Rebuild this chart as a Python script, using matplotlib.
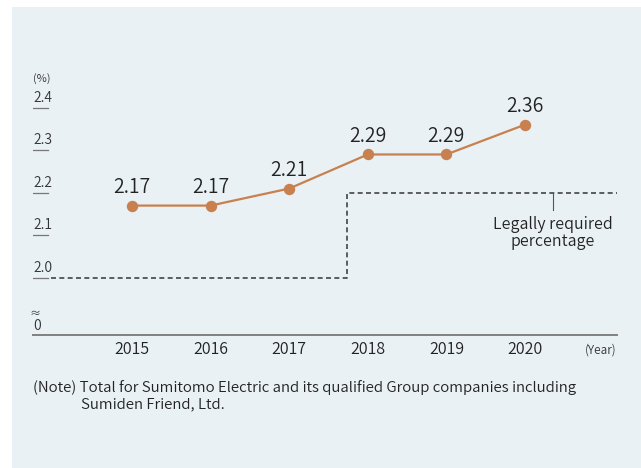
import matplotlib.pyplot as plt
import matplotlib.transforms as mtransforms
from matplotlib.patches import Rectangle

plt.rcParams['font.family'] = ['Noto Sans CJK JP', 'DejaVu Sans']
plt.rcParams['font.weight'] = 350

# data
years = [2015, 2016, 2017, 2018, 2019, 2020]
rates = [2.17, 2.17, 2.21, 2.29, 2.29, 2.36]
legal_x = [2013.97, 2017.73, 2017.73, 2021.17]
legal_y = [2.0, 2.0, 2.2, 2.2]
ytick_vals = [2.0, 2.1, 2.2, 2.3, 2.4]
ytick_labels = ['2.0', '2.1', '2.2', '2.3', '2.4']

W, H = 641, 468
fig = plt.figure(figsize=(W / 100, H / 100), dpi=100)
fig.patch.set_facecolor('white')
fig.patches.append(Rectangle((12 / W, 0), 1 - 12 / W, 1 - 7 / H, transform=fig.transFigure,
                             facecolor='#e9f1f4', edgecolor='none', zorder=-5))

# axes placed in pixel terms
left, right, top, bottom = 33, 617, 80, 335
ax = fig.add_axes([left / W, 1 - bottom / H, (right - left) / W, (bottom - top) / H])
ax.set_zorder(2)
ax.set_facecolor('none')
px = 0.1 / 42.6  # value per pixel
y0 = 2.0 - 57 * px  # position drawn for "0"
ax.set_ylim(y0, 2.0 + 198 * px)
ax.set_xlim(2015 - 99 / 78.6, 2015 + 485 / 78.6)
for s in ax.spines.values():
    s.set_visible(False)
ax.set_xticks([])
ax.set_yticks([])

col = '#c8804f'
ax.plot(years, rates, color=col, lw=1.6, marker='o', ms=7.2, zorder=3, clip_on=False)
for x, v in zip(years, rates):
    ax.annotate(f'{v:.2f}', (x, v), xytext=(0, 5.5), textcoords='offset points',
                ha='center', va='bottom', fontsize=14, color='#222222')

# legally required line
ax.plot(legal_x, legal_y, color='#444444', lw=1.2, ls=(0, (3, 2)), zorder=2)
ax.plot([2020.35, 2020.35], [2.2, 2.2 - 17 * px], color='#555555', lw=0.8)
ax.text(2020.35, 2.2 - 23 * px, 'Legally required\npercentage', ha='center', va='top',
        fontsize=11.5, color='#222222', linespacing=1.0)

# baseline axis
ax.axhline(y0, color='#808080', lw=1.4, clip_on=False)

# y tick labels with underlines
trans = mtransforms.blended_transform_factory(ax.transAxes, ax.transData)
for v, lab in zip(ytick_vals, ytick_labels):
    ax.plot([0, 15 / (right - left)], [v, v], transform=trans, color='#777777', lw=0.9)
    ax.text(0, v + 3 * px, lab, transform=trans, ha='left', va='bottom', fontsize=10, color='#333333')
ax.text(0, y0 + 2 * px, '0', transform=trans, ha='left', va='bottom', fontsize=10, color='#333333')
ax.text(-0.006, y0 + 16 * px, '≈', transform=trans, ha='left', va='bottom', fontsize=8, color='#333333')
ax.text(0, 2.4 + 24 * px, '(%)', transform=trans, ha='left', va='bottom', fontsize=8, color='#333333')

# x labels
for x in years:
    ax.text(x, y0 - 15 * px, str(x), ha='center', va='center', fontsize=11.5, color='#222222')
ax.text(1.0, y0 - 15 * px, '(Year)', transform=trans, ha='right', va='center', fontsize=8.5, color='#333333')

fig.text(33 / W, 1 - 388 / H, '(Note) Total for Sumitomo Electric and its qualified Group companies including',
         ha='left', va='center', fontsize=10.8, color='#222222')
fig.text(81 / W, 1 - 404 / H, 'Sumiden Friend, Ltd.', ha='left', va='center', fontsize=10.8, color='#222222')

fig.savefig('out.png', dpi=100, facecolor=fig.get_facecolor())
